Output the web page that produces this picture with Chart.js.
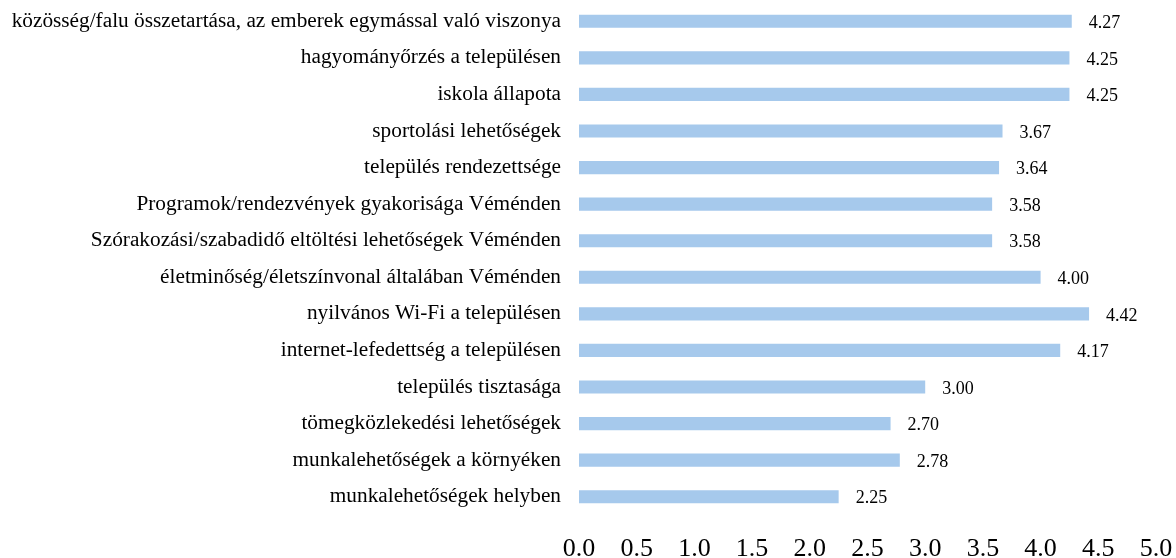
<!DOCTYPE html>
<html>
<head>
<meta charset="utf-8">
<script src="https://cdn.jsdelivr.net/npm/chart.js@4/dist/chart.umd.min.js"></script>
<style>
  html, body { margin: 0; padding: 0; background: #fff; }
  #wrap { width: 1176px; height: 558px; }
</style>
</head>
<body>
<div id="wrap"><canvas id="chart"></canvas></div>
<script>
var labels = [
    'közösség/falu összetartása, az emberek egymással való viszonya',
    'hagyományőrzés a településen',
    'iskola állapota',
    'sportolási lehetőségek',
    'település rendezettsége',
    'Programok/rendezvények gyakorisága Véménden',
    'Szórakozási/szabadidő eltöltési lehetőségek Véménden',
    'életminőség/életszínvonal általában Véménden',
    'nyilvános Wi-Fi a településen',
    'internet-lefedettség a településen',
    'település tisztasága',
    'tömegközlekedési lehetőségek',
    'munkalehetőségek a környéken',
    'munkalehetőségek helyben'
]
var values = [4.27, 4.25, 4.25, 3.67, 3.64, 3.58, 3.58, 4.00, 4.42, 4.17, 3.00, 2.70, 2.78, 2.25]
var barColor = '#A6C9EC'
var serif = '"Liberation Serif", "Times New Roman", serif'

// numbers to the right of each bar
var valueLabels = {
    id: 'valueLabels',
    afterDatasetsDraw: function (chart) {
        var ctx = chart.ctx
        var meta = chart.getDatasetMeta(0)
        ctx.save()
        ctx.font = '18px ' + serif
        ctx.fillStyle = '#000'
        ctx.textAlign = 'left'
        ctx.textBaseline = 'middle'
        meta.data.forEach(function (bar, i) {
            ctx.fillText(values[i].toFixed(2), bar.x + 17, bar.y + 2)
        })
        ctx.restore()
    }
}

new Chart(document.getElementById('chart'), {
    type: 'bar',
    data: {
        labels: labels,
        datasets: [{
            data: values,
            backgroundColor: barColor,
            categoryPercentage: 1,
            barPercentage: 0.36
        }]
    },
    options: {
        indexAxis: 'y',
        responsive: true,
        maintainAspectRatio: false,
        animation: false,
        layout: { padding: { top: 3, right: 20, bottom: 0, left: 0 } },
        plugins: {
            legend: { display: false },
            tooltip: { enabled: false }
        },
        scales: {
            x: {
                min: 0,
                max: 5,
                grid: { display: false, drawTicks: false },
                border: { display: false },
                afterFit: function (scale) {
                    scale.height = 43
                    scale.paddingLeft = 0
                    scale.paddingRight = 0
                },
                ticks: {
                    stepSize: 0.5,
                    padding: 21,
                    color: '#000',
                    font: { family: serif, size: 26, lineHeight: 1 },
                    maxRotation: 0,
                    callback: function (v) { return Number(v).toFixed(1) }
                }
            },
            y: {
                grid: { display: false, drawTicks: false },
                border: { display: false },
                afterFit: function (scale) {
                    scale.width = 579
                    scale.paddingTop = 0
                    scale.paddingBottom = 0
                },
                ticks: {
                    padding: 18,
                    color: '#000',
                    font: { family: serif, size: 21.3 },
                    autoSkip: false
                }
            }
        }
    },
    plugins: [valueLabels]
})
</script>
</body>
</html>
